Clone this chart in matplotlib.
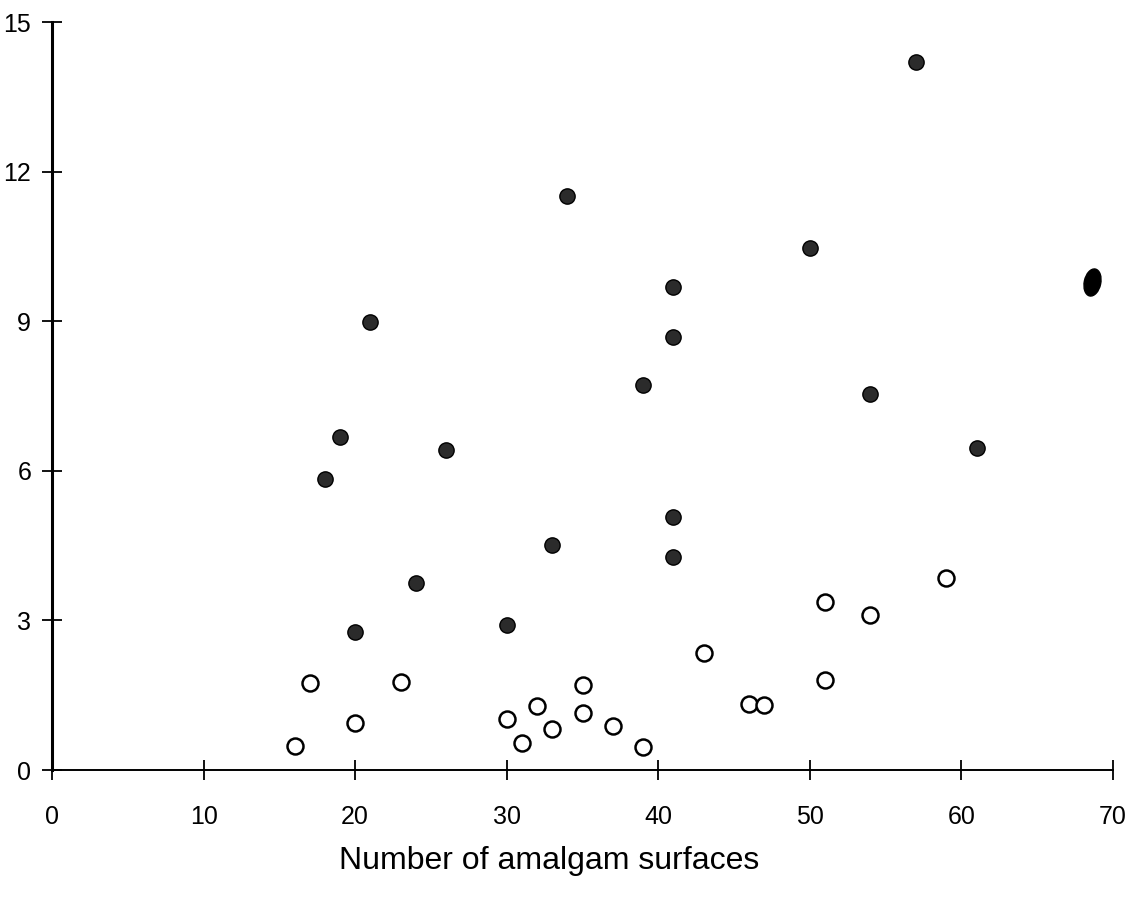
import matplotlib.pyplot as plt
from matplotlib.path import Path
from matplotlib.transforms import Affine2D

# solid dots
filled_x = [18, 19, 20, 21, 24, 26, 30, 33, 34, 39, 41, 41, 41, 41, 50, 54, 57, 61]
filled_y = [5.83, 6.68, 2.77, 8.98, 3.74, 6.42, 2.91, 4.51, 11.52, 7.72,
            9.68, 8.69, 5.07, 4.28, 10.47, 7.55, 14.2, 6.45]
# the big smudged dot at the right edge
big_x = [68.6]
big_y = [9.79]
# open circles
open_x = [16, 17, 20, 23, 30, 31, 32, 33, 35, 35, 37, 39, 43, 46, 47, 51, 51, 54, 59]
open_y = [0.48, 1.75, 0.94, 1.77, 1.02, 0.54, 1.29, 0.82, 1.70, 1.15,
          0.89, 0.47, 2.34, 1.32, 1.30, 3.37, 1.80, 3.11, 3.85]

xticks = [0, 10, 20, 30, 40, 50, 60, 70]
yticks = [0, 3, 6, 9, 12, 15]
xlabel = 'Number of amalgam surfaces'

plt.rcParams['font.family'] = ['Liberation Sans', 'DejaVu Sans']

fig = plt.figure(figsize=(11.45, 8.97), dpi=100)
ax = fig.add_axes([52/1145, 1-770/897, (1113-52)/1145, (770-22)/897])

ax.plot(open_x, open_y, 'o', ms=11.5, mfc='white', mec='black', mew=1.8, ls='none')
ax.plot(filled_x, filled_y, 'o', ms=11, mfc='#2b2b2b', mec='black', mew=1, ls='none')

# tilted ellipse marker for the odd one
ell = Path.unit_circle().transformed(Affine2D().scale(0.6, 1).rotate_deg(-12))
ax.plot(big_x, big_y, ls='none', marker=ell, ms=20, mfc='black', mec='black')

ax.set_xlim(0, 70)
ax.set_ylim(0, 15)
ax.set_xticks(xticks)
ax.set_yticks(yticks)
ax.spines['top'].set_visible(False)
ax.spines['right'].set_visible(False)
ax.spines['left'].set_linewidth(2.2)
ax.spines['bottom'].set_linewidth(1.4)
ax.tick_params(axis='x', direction='inout', length=14, width=1.3, pad=18, labelsize=18)
ax.tick_params(axis='y', direction='inout', length=14, width=1.3, pad=8, labelsize=18)
ax.set_xlabel(xlabel, fontsize=23)
ax.xaxis.set_label_coords(0.469, -0.102)

fig.savefig('out.png', dpi=100, facecolor='white')
